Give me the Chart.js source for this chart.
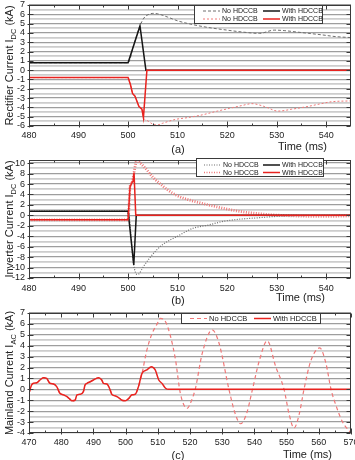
<!DOCTYPE html>
<html><head><meta charset="utf-8">
<script src="https://cdn.jsdelivr.net/npm/chart.js@4.4.1/dist/chart.umd.min.js"></script>
<style>
html,body{margin:0;padding:0;background:#fff;width:355px;height:460px;overflow:hidden}
canvas{position:absolute;left:0;background:transparent}
</style></head><body>
<canvas id="ca" width="355" height="157" style="top:0"></canvas>
<canvas id="cb" width="355" height="152" style="top:157px"></canvas>
<canvas id="cc" width="355" height="157" style="top:303px"></canvas>
<script>
// ---------- Panel (a): Rectifier current ----------
const xLabelsA = [480, 490, 500, 510, 520, 530, 540];
const yLabelsA = [-6, -5, -4, -3, -2, -1, 0, 1, 2, 3, 4, 5, 6, 7];
const tA_noBlk = [480, 500, 501.2, 502.4, 503.2, 504, 505, 506, 508, 510, 513, 516, 520, 523, 526.5, 529.5, 531.5, 534, 536.5, 539, 542, 545];
const iA_noBlk = [0.8, 0.8, 2.8, 4.75, 5.6, 5.95, 6.1, 6.05, 5.7, 5.3, 4.9, 4.6, 4.3, 4.1, 3.95, 4.3, 4.25, 4.1, 3.95, 3.8, 3.6, 3.5];
const tA_withBlk = [480, 500, 502.4, 503.6, 545];
const iA_withBlk = [0.8, 0.8, 4.75, 0, 0];
const tA_noRed = [480, 500, 500.5, 500.9, 501.4, 502.2, 502.8, 503.1, 503.8, 505, 505.8, 507, 509.5, 512, 515, 518, 520.5, 523, 525, 527.5, 530.3, 533, 536.3, 539, 541, 545];
const iA_noRed = [-0.8, -0.8, -1.6, -2.5, -2.8, -3.9, -4.2, -5.1, -5.4, -5.8, -5.9, -5.7, -5.3, -5.1, -4.8, -4.4, -4.1, -3.8, -3.6, -3.9, -4.4, -4.2, -3.9, -3.6, -3.4, -3.3];
const tA_withRed = [480, 500, 500.5, 500.9, 501.4, 502.2, 502.8, 503.1, 503.8, 545];
const iA_withRed = [-0.8, -0.8, -1.6, -2.5, -2.8, -3.9, -4.2, -5.1, 0, 0];

// ---------- Panel (b): Inverter current ----------
const xLabelsB = [480, 490, 500, 510, 520, 530, 540];
const yLabelsB = [-12, -10, -8, -6, -4, -2, 0, 2, 4, 6, 8, 10];
const tB_noBlk = [480, 500, 501.1, 501.8, 502.2, 503.1, 504.5, 505.8, 507, 508.5, 510, 511.5, 513, 516, 519.5, 523, 526.5, 530, 535, 540, 545];
const iB_noBlk = [0.8, 0.8, -9.3, -11.3, -11.2, -9.8, -8.0, -6.6, -5.6, -4.7, -4.0, -3.2, -2.5, -1.9, -1.1, -0.7, -0.45, -0.2, -0.05, 0, 0.05];
const tB_withBlk = [480, 500, 501.15, 501.65, 545];
const iB_withBlk = [0.8, 0.8, -9.5, 0, 0];
const tB_noRed = [480, 500, 500.4, 500.8, 501.2, 501.8, 502.5, 503.8, 505, 506.4, 507.8, 509.1, 510.3, 512.5, 516.2, 519.5, 522.9, 526, 529.7, 535, 540, 545];
const iB_noRed = [-0.85, -0.85, 5.5, 6.3, 8.2, 10.6, 10.0, 8.7, 7.3, 6.1, 5.0, 4.2, 3.6, 2.9, 2.0, 1.3, 0.7, 0.35, 0.06, -0.15, -0.2, -0.1];
const tB_withRed = [480, 500, 500.4, 500.8, 501.0, 501.2, 501.55, 545];
const iB_withRed = [-0.85, -0.85, 5.5, 6.3, 6.5, 8.2, 0, 0];

// ---------- Panel (c): Mainland AC current ----------
const xLabelsC = [470, 480, 490, 500, 510, 520, 530, 540, 550, 560, 570];
const yLabelsC = [-4, -3, -2, -1, 0, 1, 2, 3, 4, 5, 6, 7];
const tC_pre = [470, 470.8, 471.4, 472.4, 473.4, 474.5, 475.5, 476.5, 477.6, 478.6, 479.6, 480.7, 481.7, 482.7, 483.3, 484.3, 484.9, 485.9, 486.9, 487.4, 488, 489, 490, 491.6, 492.6, 493.1, 494.2, 495.2, 495.7, 496.8, 497.8, 498.9, 499.9, 500.9, 502, 503, 504, 505.1];
const iC_pre = [-0.36, 0.4, 0.56, 0.6, 0.86, 1.07, 1.0, 0.56, 0.5, 0.25, -0.36, -0.5, -0.65, -0.9, -1.05, -1.0, -0.5, -0.45, -0.2, 0.4, 0.55, 0.7, 0.86, 1.07, 0.86, 0.55, 0.5, -0.05, -0.45, -0.6, -0.75, -1.0, -1.05, -0.85, -0.5, -0.45, 0.25, 1.47];
const tC_withPost = [506.6, 508, 509.2, 510.3, 511.3, 512.4, 513.4, 570];
const iC_withPost = [1.78, 2.08, 1.78, 0.86, 0.55, 0.1, 0, 0];
const tC_noPost = [506.6, 508.2, 509.8, 510.8, 512.4, 514, 515.5, 517, 519.1, 520.5, 521.7, 523.8, 526.9, 529, 532.1, 534, 535.7, 537.6, 539.4, 541.5, 544, 546.6, 549.2, 550.8, 552.3, 553.9, 555.4, 557.5, 560.3, 562.2, 563.8, 565.6, 567.4, 570];
const iC_noPost = [3.6, 5.1, 6.0, 6.5, 6.2, 4.8, 2.7, -0.36, -1.75, -1.0, 0.1, 3.3, 5.45, 4.25, 0, -2.2, -3.15, -2.2, 0, 2.6, 4.45, 2.1, 0, -2.3, -3.55, -2.3, 0, 2.6, 3.8, 2.4, 0, -1.7, -3.0, -4.0];

const FONT = '"Liberation Sans", Arial, Helvetica, sans-serif';
const pts = (t, v) => t.map((x, i) => ({x: x, y: v[i]}));

const decor = {
  id: 'decor',
  afterDatasetsDraw(chart, args, o) {
    const ctx = chart.ctx, a = chart.chartArea, xs = chart.scales.x, ys = chart.scales.y;
    ctx.save();
    ctx.strokeStyle = '#3a3a3a'; ctx.lineWidth = 1; ctx.setLineDash([]);
    const L0 = Math.round(a.left) + 0.5, T0 = Math.round(a.top) + 0.5, R0 = Math.round(a.right) - 0.5, B0 = Math.round(a.bottom) - 0.5;
    ctx.strokeRect(L0, T0, R0 - L0, B0 - T0);
    ctx.beginPath();
    const xl = o.xLabels, stepX = xl[1] - xl[0];
    for (let i = 0; i < xl.length; i++) {
      const p = Math.round(xs.getPixelForValue(xl[i])) + 0.5;
      ctx.moveTo(p, B0 + 2); ctx.lineTo(p, B0 - 4);
      ctx.moveTo(p, T0); ctx.lineTo(p, T0 + 4);
      const m = xl[i] + stepX / 2;
      if (m < xs.max) {
        const q = Math.round(xs.getPixelForValue(m)) + 0.5;
        ctx.moveTo(q, B0); ctx.lineTo(q, B0 - 2);
        ctx.moveTo(q, T0); ctx.lineTo(q, T0 + 2);
      }
    }
    const yl = o.yLabels;
    for (let i = 0; i < yl.length; i++) {
      const p = Math.round(ys.getPixelForValue(yl[i])) + 0.5;
      ctx.moveTo(L0 - 2, p); ctx.lineTo(L0 + 4, p);
      ctx.moveTo(R0, p); ctx.lineTo(R0 - 4, p);
    }
    ctx.stroke();
    ctx.fillStyle = '#222';
    ctx.font = '9px ' + FONT;
    ctx.textAlign = 'center'; ctx.textBaseline = 'middle';
    for (const v of xl) ctx.fillText(String(v), xs.getPixelForValue(v), a.bottom + o.xLabelGap);
    ctx.textAlign = 'right';
    for (const v of yl) ctx.fillText(String(v), a.left - 4, ys.getPixelForValue(v));
    ctx.font = '11px ' + FONT;
    ctx.textAlign = 'right';
    ctx.fillText('Time (ms)', o.timeRight, a.bottom + o.timeGap);
    ctx.textAlign = 'center';
    ctx.fillText(o.panel, 178, a.bottom + o.panelGap);
    ctx.save();
    const [m1, sub, m2] = o.yTitle;
    ctx.font = '11px ' + FONT; const w1 = ctx.measureText(m1).width, w3 = ctx.measureText(m2).width;
    ctx.font = '7.5px ' + FONT; const w2 = ctx.measureText(sub).width;
    ctx.translate(o.yTitleX, (a.top + a.bottom) / 2);
    ctx.rotate(-Math.PI / 2);
    ctx.textAlign = 'left'; ctx.textBaseline = 'alphabetic';
    let x = -(w1 + w2 + w3) / 2;
    ctx.font = '11px ' + FONT; ctx.fillText(m1, x, 0); x += w1;
    ctx.font = '7.5px ' + FONT; ctx.fillText(sub, x, 2.5); x += w2;
    ctx.font = '11px ' + FONT; ctx.fillText(m2, x, 0);
    ctx.restore();
    const Lg = o.legend;
    ctx.fillStyle = '#fff'; ctx.fillRect(Lg.x, Lg.y, Lg.w, Lg.h);
    ctx.strokeStyle = '#3a3a3a'; ctx.lineWidth = 1;
    ctx.strokeRect(Lg.x + 0.5, Lg.y + 0.5, Lg.w - 1, Lg.h - 1);
    ctx.font = Lg.font + 'px ' + FONT; ctx.textAlign = 'left'; ctx.textBaseline = 'middle';
    Lg.rows.forEach((row, r) => row.forEach((di, c) => {
      const ds = chart.data.datasets[di];
      const yy = Lg.y + Lg.rowY[r], x0 = Lg.x + Lg.colX[c];
      ctx.beginPath(); ctx.strokeStyle = ds.borderColor; ctx.lineWidth = Math.min(ds.borderWidth, 1.5);
      ctx.setLineDash(ds.borderDash || []);
      ctx.moveTo(x0, yy); ctx.lineTo(x0 + Lg.len, yy); ctx.stroke(); ctx.setLineDash([]);
      ctx.fillStyle = '#222'; ctx.fillText(ds.label, x0 + Lg.len + 2, yy + 0.5);
    }));
    ctx.restore();
  }
};

function makeChart(id, c) {
  return new Chart(document.getElementById(id), {
    type: 'line',
    data: { datasets: c.datasets.map(d => Object.assign({pointRadius: 0, fill: false, tension: 0}, d)) },
    options: {
      responsive: false, animation: false, events: [],
      layout: { padding: { left: 0, right: 4, top: c.top, bottom: 0 } },
      plugins: { legend: { display: false }, tooltip: { enabled: false }, decor: c.decor },
      scales: {
        x: { type: 'linear', min: c.xmin, max: c.xmax,
             ticks: { display: false }, grid: { display: false }, border: { display: false },
             afterFit: s => { s.height = c.xh; } },
        y: { type: 'linear', min: c.ymin, max: c.ymax,
             afterBuildTicks: s => { const t = []; for (let v = c.ymin; v <= c.ymax + 1e-9; v += c.gstep) t.push({value: Math.round(v * 100) / 100}); s.ticks = t; },
             ticks: { display: false },
             grid: { drawTicks: false,
                     color: g => (Math.abs(g.tick.value / c.mstep - Math.round(g.tick.value / c.mstep)) < 1e-6 ? '#9e9e9e' : '#cdcdcd'),
                     lineWidth: g => (Math.abs(g.tick.value / c.mstep - Math.round(g.tick.value / c.mstep)) < 1e-6 ? 1.3 : 1.8) },
             border: { display: false },
             afterFit: s => { s.width = 29; } }
      }
    },
    plugins: [decor]
  });
}

const RED = '#e8231f', PINK = '#f07878', BLK = '#161616', GRY = '#6e6e6e';

makeChart('ca', {
  top: 5, xh: 31, xmin: 480, xmax: 545, ymin: -6, ymax: 7, gstep: 0.5, mstep: 1,
  datasets: [
    { label: 'With HDCCB', data: pts(tA_withRed, iA_withRed), borderColor: RED, borderWidth: 1.5, order: 0 },
    { label: 'With HDCCB', data: pts(tA_withBlk, iA_withBlk), borderColor: BLK, borderWidth: 1.5, order: 1 },
    { label: 'No HDCCB', data: pts(tA_noBlk, iA_noBlk), borderColor: GRY, borderWidth: 1, borderDash: [3, 2], cubicInterpolationMode: 'monotone', order: 2 },
    { label: 'No HDCCB', data: pts(tA_noRed, iA_noRed), borderColor: PINK, borderWidth: 1, borderDash: [2, 2], cubicInterpolationMode: 'monotone', order: 3 }
  ],
  decor: { xLabels: xLabelsA, yLabels: yLabelsA, xLabelGap: 10, timeGap: 21, panelGap: 24, timeRight: 327, panel: '(a)',
           yTitle: ['Rectifier Current I', 'DC', ' (kA)'], yTitleX: 13,
           legend: { x: 194, y: 5, w: 129, h: 19, font: 7, len: 17, colX: [9, 69], rowY: [6, 14], rows: [[2, 1], [3, 0]] } }
});

makeChart('cb', {
  top: 3, xh: 31, xmin: 480, xmax: 545, ymin: -12, ymax: 10.6, gstep: 1, mstep: 2,
  datasets: [
    { label: 'With HDCCB', data: pts(tB_withRed, iB_withRed), borderColor: RED, borderWidth: 1.5, order: 0 },
    { label: 'With HDCCB', data: pts(tB_withBlk, iB_withBlk), borderColor: BLK, borderWidth: 1.5, order: 1 },
    { label: 'No HDCCB', data: pts(tB_noBlk, iB_noBlk), borderColor: GRY, borderWidth: 1.2, borderDash: [1, 1.5], cubicInterpolationMode: 'monotone', order: 2 },
    { label: 'No HDCCB', data: pts(tB_noRed, iB_noRed), borderColor: PINK, borderWidth: 2.8, borderDash: [1, 1.5], cubicInterpolationMode: 'monotone', order: 3 }
  ],
  decor: { xLabels: xLabelsB, yLabels: yLabelsB, xLabelGap: 11, timeGap: 20, panelGap: 23, timeRight: 325, panel: '(b)',
           yTitle: ['Inverter Current I', 'DC', ' (kA)'], yTitleX: 13,
           legend: { x: 196, y: 1, w: 128, h: 19, font: 7, len: 17, colX: [8, 67], rowY: [7, 14.5], rows: [[2, 1], [3, 0]] } }
});

makeChart('cc', {
  top: 10, xh: 27, xmin: 470, xmax: 570, ymin: -4, ymax: 7, gstep: 0.5, mstep: 1,
  datasets: [
    { label: 'With HDCCB', data: pts(tC_pre.concat(tC_withPost), iC_pre.concat(iC_withPost)), borderColor: RED, borderWidth: 1.5, cubicInterpolationMode: 'monotone', order: 0 },
    { label: 'No HDCCB', data: pts(tC_pre.concat(tC_noPost), iC_pre.concat(iC_noPost)), borderColor: PINK, borderWidth: 1.2, borderDash: [4, 3], cubicInterpolationMode: 'monotone', order: 1 }
  ],
  decor: { xLabels: xLabelsC, yLabels: yLabelsC, xLabelGap: 10, timeGap: 22, panelGap: 23, timeRight: 332, panel: '(c)',
           yTitle: ['Mainland Current I', 'AC', ' (kA)'], yTitleX: 13,
           legend: { x: 181, y: 10, w: 140, h: 11, font: 7.5, len: 17, colX: [9, 73], rowY: [5.5], rows: [[1, 0]] } }
});
</script>
</body></html>
